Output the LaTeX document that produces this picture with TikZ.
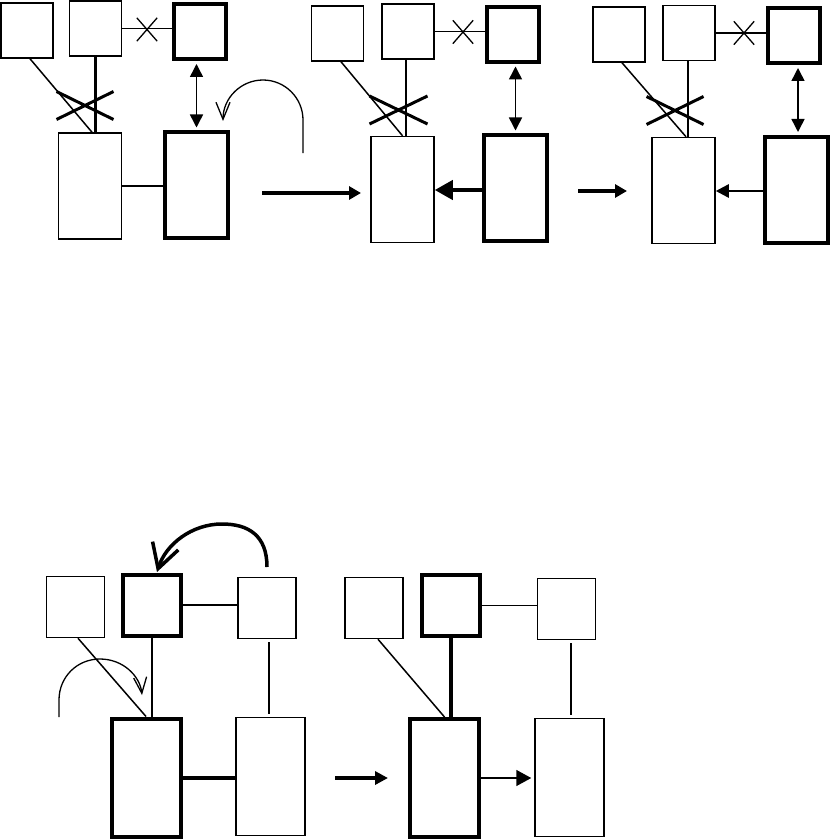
\documentclass[tikz,border=0pt]{standalone}
\usetikzlibrary{arrows.meta,shapes.misc,calc}
\begin{document}
\begin{tikzpicture}[
  x=1pt, y=-1pt,
  cell/.style={draw, line width=1.5pt, inner sep=0pt},
  cellbold/.style={cell, line width=4pt},
  sq/.style={minimum width=52, minimum height=55},
  tall/.style={minimum width=63, minimum height=106},
  bsq/.style={minimum width=58, minimum height=61},
  btall/.style={minimum width=69, minimum height=118},
  link/.style={line width=1.5pt},
  heavylink/.style={line width=4pt},
  bigx/.style={draw, cross out, line width=3pt, inner sep=0pt,
               minimum width=54, minimum height=25},
  smallx/.style={draw, cross out, line width=1.3pt, inner sep=0pt,
                 minimum width=19, minimum height=22},
  dblarrow/.style={{Triangle[length=13pt,width=13pt]}-{Triangle[length=13pt,width=13pt]},
                   line width=1.5pt, shorten <=2.5pt, shorten >=2.5pt},
  stepto/.style={-{Triangle[length=12pt,width=13pt]}, line width=4pt},
  turn/.style={-{Straight Barb[length=17pt,width=14pt]}, line width=1.3pt}
]
\path[fill=white] (0,0) rectangle (830,840);

\node[cell, sq] (a1) at (27,30.5) {};
\node[cell, sq] (b1) at (95.5,28.5) {};
\node[cellbold, sq] (c1) at (199.5,32) {};
\node[cell, tall] (d1) at (90,186) {};
\node[cellbold, tall] (e1) at (196.5,185) {};
\draw[link] (b1.east) -- (b1.east -| c1.west);
\node[smallx] (x1) at (147,29.5) {};
\draw[link] ([xshift=3pt]a1.south) -- ([xshift=2pt]d1.north);
\draw[link, line width=2.5pt] (b1.south) -- (b1.south |- d1.north);
\node[bigx] (cut1) at (85,105.5) {};
\draw[link] (d1.east) -- (d1.east -| e1.west);
\draw[dblarrow] (e1.north |- c1.south) -- (e1.north);
\coordinate (r1) at (303,153);
\coordinate (q1) at (223,121);
\draw[turn] (r1) -- (303,120) .. controls (303,98) and (285,80) .. (263,80)
  .. controls (241,80) and (223,98) .. (q1);
\coordinate (o1) at (262,193);
\coordinate (i2) at (361,193);
\draw[stepto] (o1) -- (i2);

\node[cell, sq] (a2) at (337.5,33.5) {};
\node[cell, sq] (b2) at (408,31.5) {};
\node[cellbold, sq] (c2) at (512.5,34.5) {};
\node[cell, tall] (d2) at (402.5,189.5) {};
\node[cellbold, tall] (e2) at (515.5,188) {};
\draw[link] (b2.east) -- (b2.east -| c2.west);
\node[smallx] (x2) at (463,32) {};
\draw[link] ([xshift=3.5pt]a2.south) -- (d2.north);
\draw[link] ($(b2.south)+(-2,0)$) -- ($(b2.south |- d2.north)+(-2,0)$);
\node[bigx, minimum width=55] (cut2) at (398.5,110) {};
\draw[heavylink, -{Triangle[length=18pt,width=19pt]}]
  ($(e2.west)+(0,2)$) -- ($(e2.west -| d2.east)+(0,2)$);
\draw[dblarrow] (e2.north |- c2.south) -- (e2.north);
\coordinate (o2) at (578,191);
\coordinate (i3) at (627,191);
\draw[stepto] (o2) -- (i3);

\node[cell, sq] (a3) at (619,34.5) {};
\node[cell, sq] (b3) at (689,33) {};
\node[cellbold, sq] (c3) at (793.5,36) {};
\node[cell, tall] (d3) at (683.5,190.5) {};
\node[cellbold, tall] (e3) at (796,189.5) {};
\draw[link] (b3.east) -- (b3.east -| c3.west);
\node[smallx] (x3) at (744,33) {};
\draw[link] ([xshift=3pt]a3.south) -- ([xshift=2.5pt]d3.north);
\draw[link, line width=2pt] ($(b3.south)+(-1,0)$) -- ($(b3.south |- d3.north)+(-1,0)$);
\node[bigx] (cut3) at (675,110.5) {};
\draw[link, line width=2.5pt, -{Triangle[length=13pt,width=13pt]}]
  ($(e3.west)+(0,1.5)$) -- ($(e3.west -| d3.east)+(0,1.5)$);
\draw[dblarrow] ($(e3.north |- c3.south)+(2,0)$) -- ($(e3.north)+(2,0)$);

\node[cell, bsq] (f) at (75.5,607) {};
\node[cellbold, bsq] (g) at (152,605) {};
\node[cell, bsq] (h) at (267,608) {};
\node[cellbold, btall] (i) at (146,777.5) {};
\node[cell, btall] (j) at (270.5,776.5) {};
\draw[link] (g.east) -- (g.east -| h.west);
\draw[link] ([xshift=2.5pt]f.south) -- (i.north);
\draw[link] (g.south) -- (g.south |- i.north);
\draw[link, shorten <=3pt, shorten >=3pt] ($(h.south)+(2,0)$) -- ($(h.south |- j.north)+(2,0)$);
\draw[heavylink] (i.east) -- (i.east -| j.west);
\coordinate (r4) at (59,717);
\coordinate (q4) at (142,695);
\draw[turn, -{Straight Barb[length=16pt,width=13pt]}] (r4) -- (59,700)
  .. controls (59,677) and (77,659) .. (100,659)
  .. controls (123,659) and (140,676) .. (q4);
\coordinate (r5) at (267,567);
\coordinate (q5) at (157,572);
\draw[turn, line width=3.5pt, -{Straight Barb[length=24pt,width=27pt]}] (r5)
  .. controls (267,535) and (248,524) .. (222,524)
  .. controls (192,524) and (166,544) .. (q5);

\node[cell, bsq] (k) at (374,608) {};
\node[cellbold, bsq] (l) at (451,605.5) {};
\node[cell, bsq] (m) at (566.5,609) {};
\node[cellbold, btall] (n) at (444.5,778) {};
\node[cell, btall] (o) at (569.5,777.5) {};
\draw[link] (l.east) -- (l.east -| m.west);
\draw[link] ([xshift=4pt]k.south) -- (n.north);
\draw[heavylink] (l.south) -- (l.south |- n.north);
\draw[link, shorten <=3pt, shorten >=3pt] ($(m.south)+(4.5,0)$) -- ($(m.south |- o.north)+(4.5,0)$);
\coordinate (o5) at (335,778);
\coordinate (i6) at (388,778);
\draw[stepto, -{Triangle[length=13pt,width=13pt]}] (o5) -- (i6);
\draw[link, shorten >=3pt, -{Triangle[length=15pt,width=16pt]}] (n.east) -- (n.east -| o.west);

\end{tikzpicture}
\end{document}
